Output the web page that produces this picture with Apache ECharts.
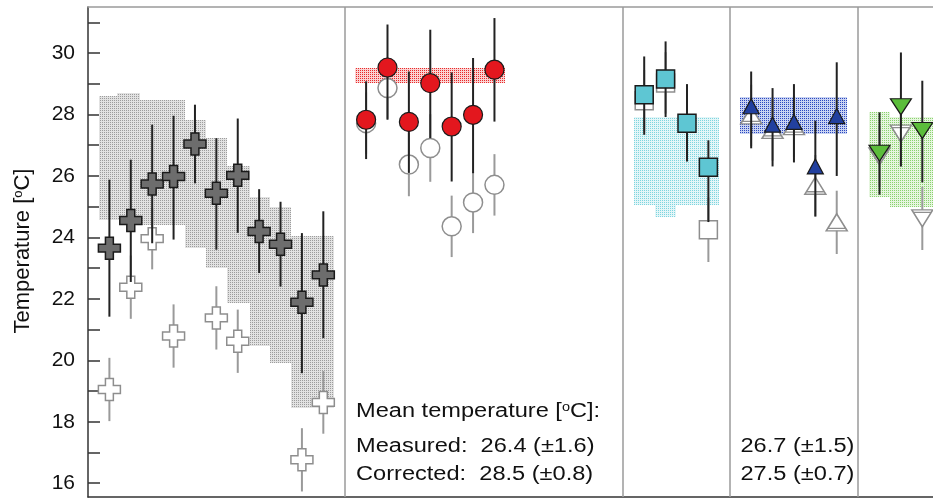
<!DOCTYPE html>
<html>
<head>
<meta charset="utf-8">
<script src="https://cdn.jsdelivr.net/npm/echarts@6/dist/echarts.min.js"></script>
<style>
  html, body { margin: 0; padding: 0; background: #fff; }
  #chart { width: 933px; height: 499px; }
</style>
</head>
<body>
<div id="chart"></div>
<script>
// ---------------- Data ----------------
// Y axis ticks (every degree) and labelled values (every two degrees)
const yTicks = [16, 17, 18, 19, 20, 21, 22, 23, 24, 25, 26, 27, 28, 29, 30, 31];
const yLabels = [16, 18, 20, 22, 24, 26, 28, 30];

// Slot positions of the panel separators
const panelBreaks = [11, 24, 29, 35];

// Panel 1: crosses
const crossSlots = [0, 1, 2, 3, 4, 5, 6, 7, 8, 9, 10];
const crossCorrected = [23.65, 24.55, 25.74, 25.98, 27.04, 25.44, 26.02, 24.19, 23.78, 21.89, 22.78];
const crossCorrLow = [21.42, 22.55, 23.81, 23.93, 25.76, 23.60, 24.15, 22.84, 22.40, 19.58, 20.72];
const crossCorrHigh = [25.88, 26.53, 27.67, 27.96, 28.32, 27.23, 27.87, 25.57, 25.16, 24.14, 24.85];
const crossMeasured = [19.05, 22.38, 23.96, 20.79, null, 21.38, 20.62, null, null, 16.76, 18.63];
const crossMeasErr = [1.03, 1.03, 1.0, 1.03, null, 1.03, 1.03, null, null, 1.03, 1.02];
// Range band: [slotFrom, slotTo, low, high]
const crossBand = [
  [-0.5, 0.35, 24.57, 28.6], [0.35, 1.43, 24.57, 28.7], [1.43, 3.54, 24.4, 28.48],
  [3.54, 4.5, 23.66, 27.83], [4.5, 5.5, 23.0, 27.23], [5.5, 6.55, 21.86, 26.31],
  [6.55, 7.5, 20.45, 25.33], [7.5, 8.5, 19.9, 25.0], [8.5, 10.5, 18.44, 24.03]
];

// Panel 2: circles
const circleSlots = [12, 13, 14, 15, 16, 17, 18];
const circleCorrected = [27.83, 29.53, 27.76, 29.02, 27.61, 27.99, 29.46];
const circleCorrLow = [26.55, 27.83, 26.10, 27.23, 25.82, 26.09, 27.77];
const circleCorrHigh = [29.08, 30.93, 29.40, 30.76, 29.37, 29.84, 31.14];
const circleMeasured = [27.72, 28.86, 26.37, 26.91, 24.36, 25.14, 25.71];
const circleMeasErr = [1.0, 1.0, 1.03, 1.1, 1.0, 1.0, 1.0];
const circleBand = [[11.5, 18.5, 29.02, 29.52]];

// Panel 3: squares
const squareSlots = [25, 26, 27, 28];
const squareCorrected = [28.64, 29.16, 27.72, 26.28];
const squareCorrLow = [27.34, 27.92, 26.47, 24.50];
const squareCorrHigh = [29.89, 30.38, 28.99, 27.16];
const squareMeasured = [28.45, 29.03, null, 24.25];
const squareMeasErr = [1.0, 1.0, null, 1.05];
const squareBand = [[24.5, 25.5, 25.04, 27.92], [25.5, 26.5, 24.68, 27.92], [26.5, 28.5, 25.04, 27.92]];

// Panel 4: up triangles
const triSlots = [30, 31, 32, 33, 34];
const triCorrected = [28.27, 27.67, 27.76, 26.31, 27.95];
const triCorrLow = [26.90, 26.31, 26.44, 24.68, 26.00];
const triCorrHigh = [29.40, 28.86, 28.99, 27.80, 29.70];
const triMeasured = [27.97, 27.50, 27.62, 25.68, 24.49];
const triMeasErr = [1.0, 1.0, 1.0, 1.0, 1.03];
const triBand = [[29.5, 34.5, 27.37, 28.56]];

// Panel 5: down triangles
const downSlots = [36, 37, 38];
const downCorrected = [26.74, 28.25, 27.48];
const downCorrLow = [25.39, 26.31, 25.79];
const downCorrHigh = [28.07, 30.02, 29.10];
const downMeasured = [26.64, 27.38, 24.62];
const downMeasErr = [1.0, 1.07, 1.03];
const downBand = [[35.5, 36.5, 25.33, 28.07], [36.5, 38.6, 25.0, 27.93]];

// Summary text
const statsPanel2 = ['Mean temperature [{sup|o}C]:', 'Measured:  26.4 (\u00b11.6)', 'Corrected:  28.5 (\u00b10.8)'];
const statsPanel4 = ['26.7 (\u00b11.5)', '27.5 (\u00b10.7)'];

// ---------------- Helpers ----------------
const FONT = '"Liberation Sans", Arial, sans-serif';

// Dotted lattice fill used for the range bands (one dot every 2 px)
function stipple(dot, bg) {
  const c = document.createElement('canvas');
  c.width = 2; c.height = 2;
  const g = c.getContext('2d');
  g.fillStyle = bg; g.fillRect(0, 0, 2, 2);
  g.fillStyle = dot; g.fillRect(0, 0, 1, 1);
  return { image: c, repeat: 'repeat' };
}

function bandSeries(segments, fill, extra) {
  return Object.assign({
    type: 'custom', z: 1, clip: true, silent: true,
    data: segments,
    renderItem: function (params, api) {
      const a = api.coord([api.value(0), api.value(3)]);
      const b = api.coord([api.value(1), api.value(2)]);
      const x = Math.round(a[0]), y = Math.round(a[1]);
      return {
        type: 'rect',
        shape: { x: x, y: y, width: Math.round(b[0]) - x, height: Math.round(b[1]) - y },
        style: { fill: fill }
      };
    }
  }, extra || {});
}

function barSeries(slots, lows, highs, color, z) {
  const data = [];
  slots.forEach(function (s, i) {
    if (lows[i] != null && highs[i] != null) data.push([s, lows[i], highs[i]]);
  });
  return {
    type: 'custom', z: z, silent: true, data: data,
    renderItem: function (params, api) {
      const p = api.coord([api.value(0), api.value(1)]);
      const q = api.coord([api.value(0), api.value(2)]);
      return {
        type: 'line',
        shape: { x1: p[0], y1: p[1], x2: q[0], y2: q[1] },
        style: { stroke: color, lineWidth: 2 }
      };
    }
  };
}

function measuredBars(slots, vals, errs, color, z) {
  const lo = vals.map(function (v, i) { return v == null ? null : v - errs[i]; });
  const hi = vals.map(function (v, i) { return v == null ? null : v + errs[i]; });
  return barSeries(slots, lo, hi, color, z);
}

function markers(slots, vals, symbol, size, fill, stroke, lw, z) {
  const data = [];
  slots.forEach(function (s, i) { if (vals[i] != null) data.push([s, vals[i]]); });
  return {
    type: 'scatter', z: z, silent: true, data: data,
    symbol: symbol, symbolSize: size,
    itemStyle: { color: fill, borderColor: stroke, borderWidth: lw, opacity: 1 }
  };
}

const CROSS = 'path://M8,0H17V8H25V17H17V25H8V17H0V8H8Z';
const TRI_UP_OPEN = 'path://M10,0L20,17L0,17Z M1.5,14.5L18.5,14.5';
const TRI_DOWN = 'path://M0,0L20,0L10,16Z';
const TRI_DOWN_OPEN = 'path://M0,0L20,0L10,17Z M1.5,2.5L18.5,2.5';

const GRAY_BAR = '#9a9a9a';
const DARK_BAR = '#222';
const GRAY_EDGE = '#8e8e8e';
const DARK_EDGE = '#1a1a1a';

// ---------------- Chart ----------------
const chart = echarts.init(document.getElementById('chart'), null, { renderer: 'canvas' });

const series = [
  bandSeries(crossBand, stipple('#9c9c9c', '#e2e2e2'), {
    markLine: {
      silent: true, symbol: ['none', 'none'], label: { show: false },
      lineStyle: { color: '#9a9a9a', width: 1.5, type: 'solid' },
      data: panelBreaks.map(function (v) { return { xAxis: v }; })
    }
  }),
  bandSeries(circleBand, stipple('#e82a2a', '#fbd2d2')),
  bandSeries(squareBand, stipple('#7ed5df', '#e4f6f8')),
  bandSeries(triBand, stipple('#2a48c0', '#c9d3f2')),
  bandSeries(downBand, stipple('#8ad26e', '#e6f6df')),

  measuredBars(crossSlots, crossMeasured, crossMeasErr, GRAY_BAR, 2),
  measuredBars(circleSlots, circleMeasured, circleMeasErr, GRAY_BAR, 2),
  measuredBars(squareSlots, squareMeasured, squareMeasErr, GRAY_BAR, 2),
  measuredBars(triSlots, triMeasured, triMeasErr, GRAY_BAR, 2),
  measuredBars(downSlots, downMeasured, downMeasErr, GRAY_BAR, 2),

  markers(crossSlots, crossMeasured, CROSS, 22, '#fff', GRAY_EDGE, 1.5, 3),
  markers(circleSlots, circleMeasured, 'circle', 19, '#fff', GRAY_EDGE, 1.5, 3),
  markers(squareSlots, squareMeasured, 'rect', 18, '#fff', GRAY_EDGE, 1.5, 3),
  markers(triSlots, triMeasured, TRI_UP_OPEN, [21, 17], '#fff', GRAY_EDGE, 1.5, 3),
  markers(downSlots, downMeasured, TRI_DOWN_OPEN, [21, 17], '#fff', GRAY_EDGE, 1.5, 3),

  barSeries(crossSlots, crossCorrLow, crossCorrHigh, DARK_BAR, 4),
  barSeries(circleSlots, circleCorrLow, circleCorrHigh, DARK_BAR, 4),
  barSeries(squareSlots, squareCorrLow, squareCorrHigh, DARK_BAR, 4),
  barSeries(triSlots, triCorrLow, triCorrHigh, DARK_BAR, 4),
  barSeries(downSlots, downCorrLow, downCorrHigh, DARK_BAR, 4),

  markers(crossSlots, crossCorrected, CROSS, 22, '#6d6d6d', DARK_EDGE, 1.5, 5),
  markers(circleSlots, circleCorrected, 'circle', 19, '#e3171e', DARK_EDGE, 1.2, 5),
  markers(squareSlots, squareCorrected, 'rect', 18, '#5ec6d3', DARK_EDGE, 1.5, 5),
  markers(triSlots, triCorrected, 'triangle', [16, 15], '#22409f', DARK_EDGE, 1.2, 5),
  markers(downSlots, downCorrected, TRI_DOWN, [21, 16], '#5bbd3b', DARK_EDGE, 1.2, 5)
];

const textStyleBase = { fontSize: 19.5, fontFamily: FONT, fill: '#111', textVerticalAlign: 'middle', textAlign: 'left' };
const supRich = { sup: { fontSize: 12, verticalAlign: 'top', fontFamily: FONT } };

function statText(x, y, text) {
  return {
    type: 'text', x: x, y: y, scaleX: 1.21, silent: true, z: 10,
    style: Object.assign({ text: text, rich: supRich }, textStyleBase)
  };
}

const option = {
  animation: false,
  backgroundColor: '#fff',
  grid: { left: 88, right: 0, top: 7, bottom: 2, containLabel: false },
  xAxis: [
    {
      type: 'value', min: -1, max: 38.5, position: 'bottom',
      axisLine: { show: true, onZero: false, lineStyle: { color: '#333', width: 1.5 } },
      axisTick: { show: false }, axisLabel: { show: false }, splitLine: { show: false }
    },
    {
      type: 'value', min: -1, max: 38.5, position: 'top',
      axisLine: { show: true, onZero: false, lineStyle: { color: '#9a9a9a', width: 1.5 } },
      axisTick: { show: false }, axisLabel: { show: false }, splitLine: { show: false }
    }
  ],
  yAxis: {
    type: 'value', min: 15.55, max: 31.5,
    axisLine: { show: true, onZero: false, lineStyle: { color: '#333', width: 1.5 } },
    axisTick: { show: true, inside: true, length: 12, customValues: yTicks, lineStyle: { color: '#333', width: 1.5 } },
    axisLabel: { customValues: yLabels, fontSize: 21, fontFamily: FONT, color: '#111', margin: 13 },
    splitLine: { show: false }
  },
  graphic: [
    {
      type: 'text', x: 23, y: 251, rotation: Math.PI / 2, silent: true,
      style: {
        text: 'Temperature [{sup|o}C]', rich: { sup: { fontSize: 13, verticalAlign: 'top', fontFamily: FONT } },
        fontSize: 22, fontFamily: FONT, fill: '#111', textAlign: 'center', textVerticalAlign: 'middle'
      }
    },
    statText(356, 412, statsPanel2[0]),
    statText(356, 447, statsPanel2[1]),
    statText(356, 474.5, statsPanel2[2]),
    statText(740.5, 447, statsPanel4[0]),
    statText(740.5, 474.5, statsPanel4[1])
  ],
  series: series
};

chart.setOption(option);
</script>
</body>
</html>
